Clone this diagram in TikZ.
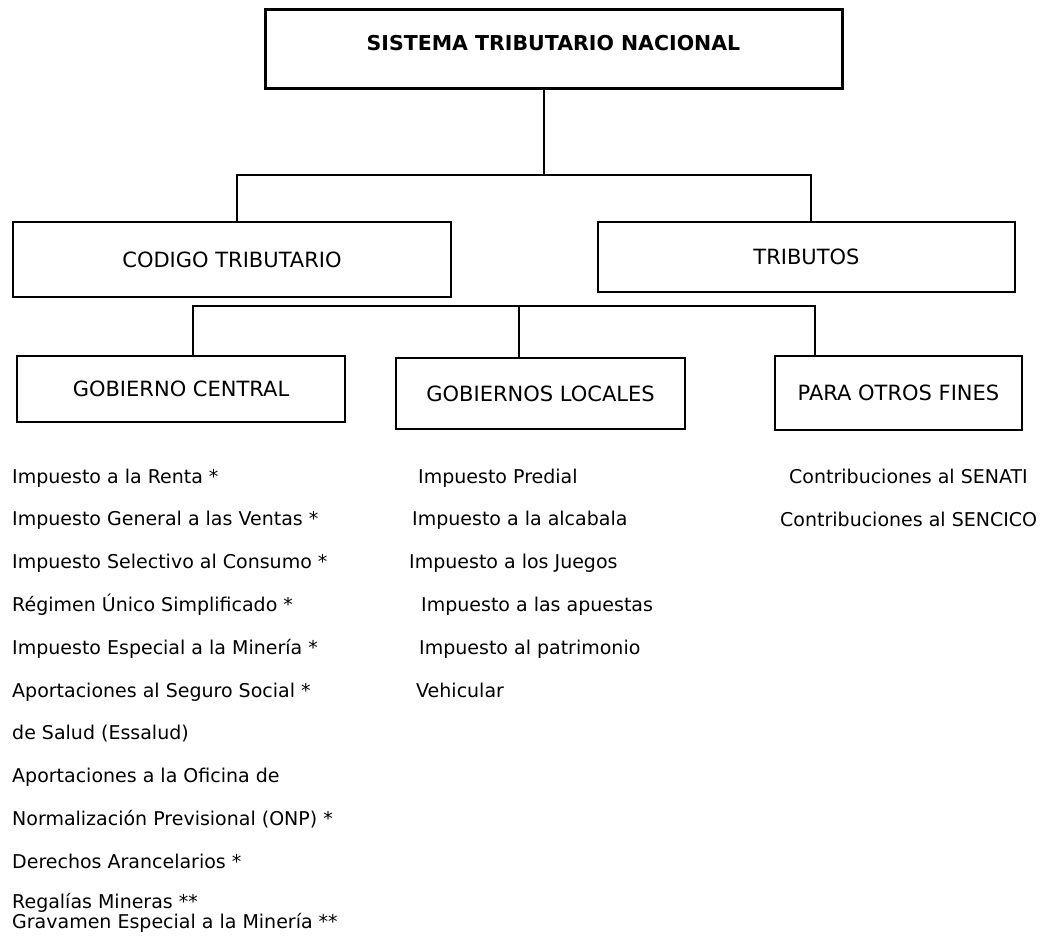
\documentclass[tikz,border=0pt]{standalone}
\usepackage{fontspec}
\setmainfont{DejaVu Sans}
\usepackage{tikz}

\tikzset{
	caja/.style={draw, rectangle, line width=1.5pt, inner sep=0pt, font=\fontsize{21}{25}\selectfont},
	lista/.style={anchor=base west, inner sep=0pt, font=\fontsize{19}{22}\selectfont},
	rama/.style={line width=1.1pt}
}

\begin{document}
\begin{tikzpicture}[x=1pt, y=-1pt]
	\path [use as bounding box] (0,0) rectangle (1046,940);
	\node[caja, line width=3pt, minimum width=577pt, text height=41pt, text depth=38pt, font=\fontsize{20.5}{24}\selectfont\bfseries] (sistema) at (553.5,48.5) {SISTEMA TRIBUTARIO NACIONAL};
	\node[caja, minimum width=438pt, minimum height=75pt] (codigo) at (232,259.5) {CODIGO TRIBUTARIO};
	\node[caja, minimum width=417pt, minimum height=70pt] (tributos) at (806.5,257) {TRIBUTOS};
	\node[caja, minimum width=328pt, minimum height=66pt] (central) at (181,389) {GOBIERNO CENTRAL};
	\node[caja, minimum width=289pt, minimum height=71pt] (locales) at (540.5,393.5) {GOBIERNOS LOCALES};
	\node[caja, minimum width=247pt, minimum height=74pt] (otros) at (898.5,393) {PARA OTROS FINES};
	% ramas
	\coordinate (nudo) at (544,175);
	\coordinate (izq1) at (237,175);
	\coordinate (der1) at (811,175);
	\coordinate (izq2) at (193,306);
	\coordinate (med2) at (519,306);
	\coordinate (der2) at (815,306);
	\draw[rama] (sistema.south -| nudo) -- (nudo);
	\draw[rama] (codigo.north -| izq1) -- (izq1) -- (der1) -- (tributos.north -| der1);
	\draw[rama] (central.north -| izq2) -- (izq2) -- (der2) -- (otros.north -| der2);
	\draw[rama] (med2) -- (locales.north -| med2);
	% gobierno central
	\foreach \txt [count=\i from 0] in {{Impuesto a la Renta *}, {Impuesto General a las Ventas *},
		{Impuesto Selectivo al Consumo *}, {Régimen Único Simplificado *},
		{Impuesto Especial a la Minería *}, {Aportaciones al Seguro Social *},
		{de Salud (Essalud)}, {Aportaciones a la Oficina de},
		{Normalización Previsional (ONP) *}, {Derechos Arancelarios *}}
		\node[lista] (gc\i) at (12,483+42.8*\i) {\txt};
	\node[lista] (gc10) at (12,908) {Regalías Mineras **};
	\node[lista] (gc11) at (12,928) {Gravamen Especial a la Minería **};
	% gobiernos locales
	\foreach \x/\txt [count=\i from 0] in {418/{Impuesto Predial}, 412/{Impuesto a la alcabala},
		409/{Impuesto a los Juegos}, 421/{Impuesto a las apuestas},
		419/{Impuesto al patrimonio}, 416/{Vehicular}}
		\node[lista] (gl\i) at (\x,483+42.8*\i) {\txt};
	% otros fines
	\node[lista] (of0) at (789,483) {Contribuciones al SENATI};
	\node[lista] (of1) at (780,526) {Contribuciones al SENCICO};
\end{tikzpicture}
\end{document}
